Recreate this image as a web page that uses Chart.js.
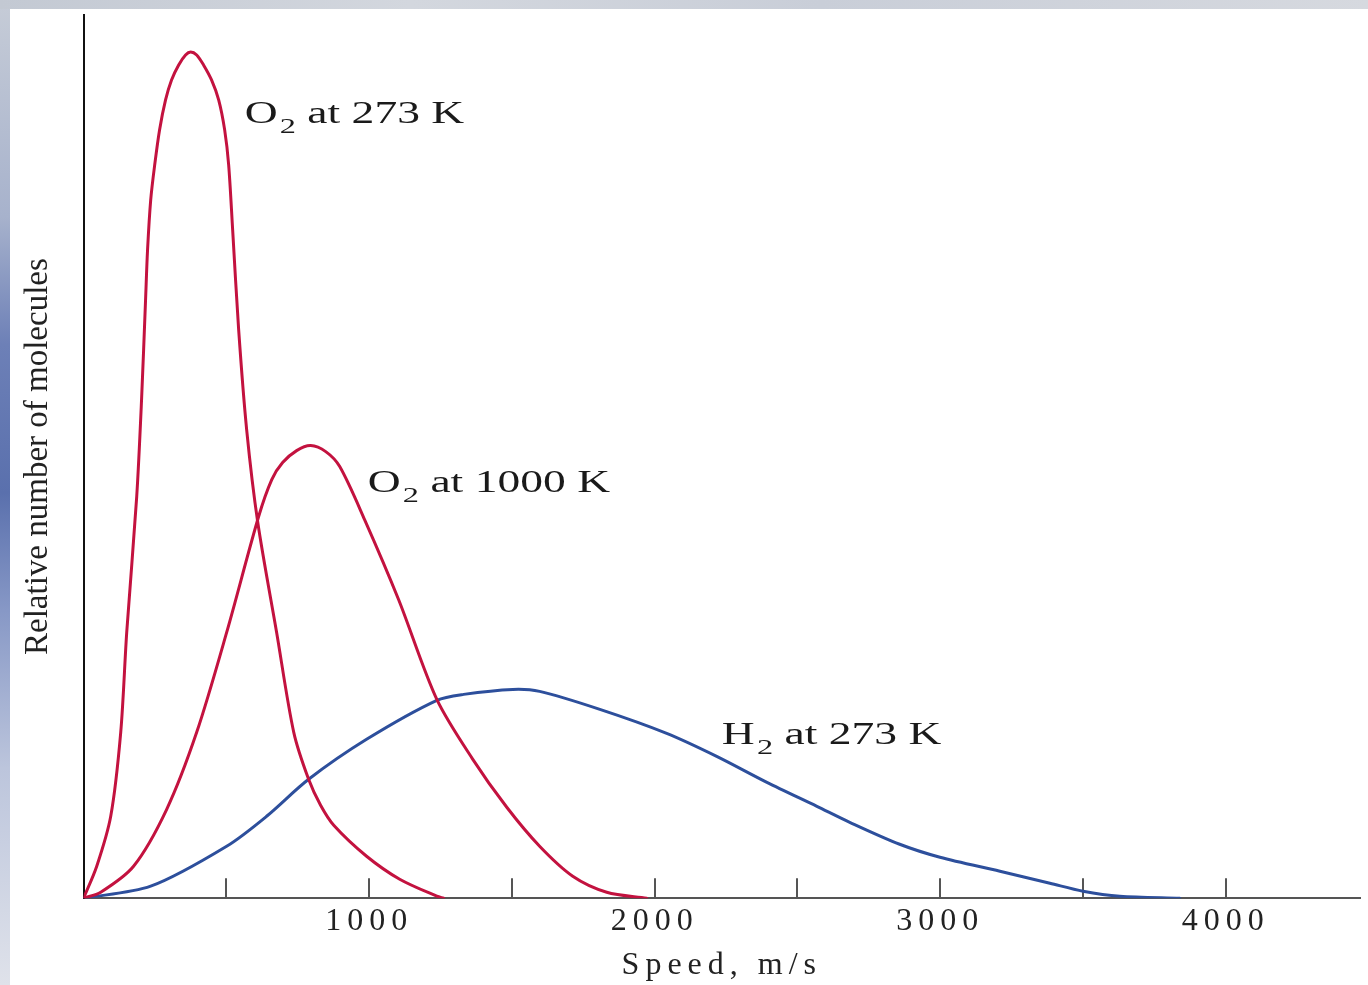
<!DOCTYPE html>
<html><head><meta charset="utf-8">
<script src="https://cdn.jsdelivr.net/npm/chart.js@4.4.1/dist/chart.umd.min.js"></script>
<style>
html,body{margin:0;padding:0;width:1368px;height:985px;overflow:hidden;}
body{background:linear-gradient(to bottom,#c6ccd7 0%,#a7b2cc 22%,#6d80b7 35%,#5a70ad 50%,#8798c6 62%,#bcc5dc 78%,#dfe2ea 100%);}
#topstrip{position:absolute;left:0;top:0;width:1368px;height:9px;background:linear-gradient(to right,#c3c9d3,#d3d7de 30%,#c9ced8 60%,#d6d9df);}
#panel{position:absolute;left:10px;top:9px;right:0;bottom:0;background:#fff;}
#wrap{position:absolute;left:0;top:0;width:1368px;height:985px;}
</style></head><body>
<div id="topstrip"></div>
<div id="panel"></div>
<div id="wrap"><canvas id="c"></canvas></div>
<script>
// ---- data (speed in m/s, relative number of molecules) ----
const o2_273_speed = [0, 46, 95, 130, 151, 186, 203, 217, 224, 235, 249, 266, 287, 308, 333, 357, 375, 396, 420, 448, 473, 494, 508, 522, 543, 571, 610, 676, 736, 788, 830, 876, 991, 1107, 1237, 1261];
const o2_273_rel   = [0, 32, 82, 166, 266, 402, 499, 599, 649, 699, 734, 769, 799, 819, 834, 844, 847, 844, 834, 819, 799, 769, 734, 669, 569, 469, 376, 266, 166, 119, 93, 73, 42, 19, 2, 0];

const o2_1000_speed = [0, 60, 175, 291, 396, 501, 613, 659, 697, 746, 795, 848, 897, 984, 1103, 1237, 1363, 1482, 1597, 1713, 1832, 1972];
const o2_1000_rel   = [0, 6, 32, 89, 166, 266, 382, 419, 436, 448, 453, 447, 432, 379, 299, 199, 139, 91, 52, 22, 6, 0];

const h2_273_speed = [0, 235, 501, 641, 788, 991, 1237, 1331, 1503, 1597, 1808, 2042, 2217, 2393, 2568, 2683, 2858, 2999, 3209, 3384, 3500, 3629, 3839];
const h2_273_rel   = [0, 12, 52, 82, 119, 159, 198, 204, 209, 207, 189, 165, 142, 116, 92, 76, 54, 41, 27, 15, 7, 2, 0];

const xTickValues = [500, 1000, 1500, 2000, 2500, 3000, 3500, 4000];
const xTickLabels = ['1000', '2000', '3000', '4000'];
const seriesNames = ['O2 at 273 K', 'O2 at 1000 K', 'H2 at 273 K'];

// curve annotations (anchor in data coordinates)
const curveNotes = [
  {main: 'O', sub: '2', rest: ' at 273 K',  speed: 564,  rel: 776},
  {main: 'O', sub: '2', rest: ' at 1000 K', speed: 995,  rel: 407},
  {main: 'H', sub: '2', rest: ' at 273 K',  speed: 2235, rel: 154}
];

const toPts = (xs, ys) => xs.map((x, i) => ({x: x, y: ys[i]}));

const RED = '#c3123f', BLUE = '#2d4f9c';
const SERIF = '"Liberation Serif", "Times New Roman", serif';

const tickMarks = {
  id: 'tickMarks',
  beforeDatasetsDraw(chart) {
    const ctx = chart.ctx, xs = chart.scales.x, y0 = chart.chartArea.bottom;
    ctx.save();
    ctx.strokeStyle = '#555';
    ctx.lineWidth = 2;
    xs.ticks.forEach(t => {
      if (t.value <= 0) return;
      const px = Math.round(xs.getPixelForValue(t.value));
      ctx.beginPath();
      ctx.moveTo(px, y0);
      ctx.lineTo(px, y0 - 20);
      ctx.stroke();
    });
    ctx.restore();
  }
};

// widen the horizontal x-axis text a little (the original type is stretched)
const xSpacing = {
  id: 'xSpacing',
  beforeDraw(chart) {
    const xs = chart.scales.x;
    if (!xs || xs._spaced) return;
    ['drawLabels', 'drawTitle'].forEach(fn => {
      const orig = xs[fn];
      xs[fn] = function (...args) {
        const c = this.ctx, prev = c.letterSpacing;
        c.letterSpacing = '6px';
        orig.apply(this, args);
        c.letterSpacing = prev || '0px';
      };
    });
    xs._spaced = true;
  }
};

const notes = {
  id: 'notes',
  afterDraw(chart) {
    const ctx = chart.ctx, xs = chart.scales.x, ys = chart.scales.y;
    ctx.save();
    ctx.letterSpacing = '0px';
    ctx.fillStyle = '#1a1a1a';
    ctx.textBaseline = 'alphabetic';
    ctx.textAlign = 'left';
    curveNotes.forEach(n => {
      const px = xs.getPixelForValue(n.speed), py = ys.getPixelForValue(n.rel);
      ctx.save();
      ctx.translate(px, py);
      ctx.scale(1.47, 1);
      ctx.font = '31px ' + SERIF;
      ctx.fillText(n.main, 0, 0);
      let w = ctx.measureText(n.main).width + 1.5;
      ctx.font = '22px ' + SERIF;
      ctx.fillText(n.sub, w, 10);
      w += ctx.measureText(n.sub).width;
      ctx.font = '31px ' + SERIF;
      ctx.fillText(n.rest, w, 0);
      ctx.restore();
    });
    ctx.restore();
  }
};

new Chart(document.getElementById('c'), {
  type: 'line',
  data: {
    datasets: [
      {label: seriesNames[0], data: toPts(o2_273_speed, o2_273_rel), borderColor: RED},
      {label: seriesNames[1], data: toPts(o2_1000_speed, o2_1000_rel), borderColor: RED},
      {label: seriesNames[2], data: toPts(h2_273_speed, h2_273_rel), borderColor: BLUE}
    ]
  },
  options: {
    responsive: true,
    maintainAspectRatio: false,
    animation: false,
    parsing: false,
    layout: {padding: {left: 19, right: 8, top: 15, bottom: 0}},
    elements: {
      line: {borderWidth: 3, tension: 0.3, cubicInterpolationMode: 'default', fill: false, borderCapStyle: 'round', borderJoinStyle: 'round'},
      point: {radius: 0, hoverRadius: 0}
    },
    plugins: {legend: {display: false}, tooltip: {enabled: false}},
    scales: {
      x: {
        type: 'linear',
        bounds: 'data',
        min: 0, max: 4470,
        afterBuildTicks: (scale) => { scale.ticks = xTickValues.map(v => ({value: v})); },
        grid: {display: false, drawTicks: false},
        border: {display: true, color: '#555', width: 2},
        ticks: {
          autoSkip: false, maxRotation: 0, minRotation: 0,
          padding: 4, color: '#222',
          font: {family: SERIF, size: 32, lineHeight: 1.2},
          callback: (v) => xTickLabels.includes(String(v)) ? String(v) : ''
        },
        title: {
          display: true, text: 'Speed, m/s', color: '#222',
          font: {family: SERIF, size: 32, lineHeight: 1.2},
          padding: {top: 2, bottom: 0}
        }
      },
      y: {
        type: 'linear',
        bounds: 'data',
        min: 0, max: 884,
        grid: {display: false, drawTicks: false},
        border: {display: true, color: '#111', width: 2},
        ticks: {display: false},
        title: {
          display: true, text: 'Relative number of molecules', color: '#222',
          font: {family: SERIF, size: 33, lineHeight: 1.2},
          padding: {top: 0, bottom: 25}
        }
      }
    }
  },
  plugins: [xSpacing, tickMarks, notes]
});
</script>
</body></html>
